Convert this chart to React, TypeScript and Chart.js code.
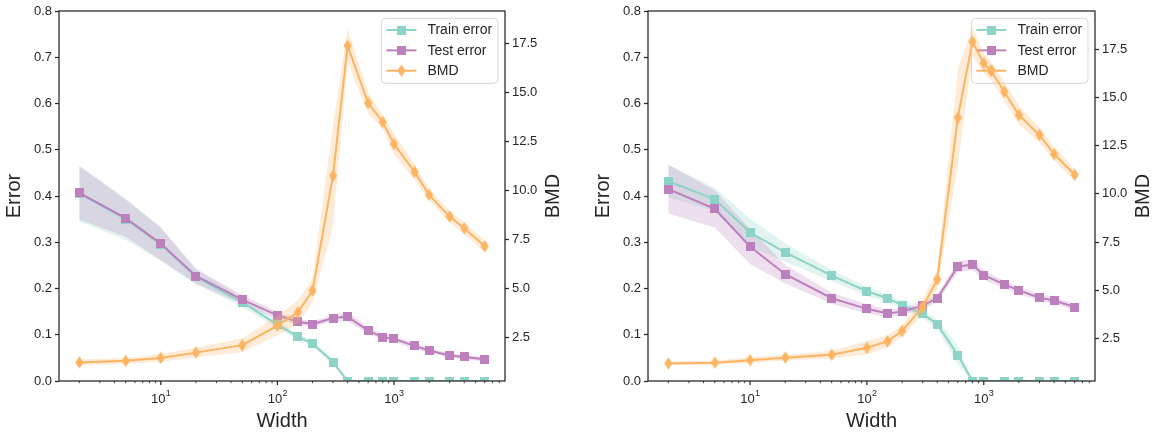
import React, { useEffect, useRef } from "react";
import { Chart, registerables } from "chart.js";

Chart.register(...registerables);

// ---------------- data ----------------
const widths = [2, 5, 10, 20, 50, 100, 150, 200, 300, 400, 600, 800, 1000, 1500, 2000, 3000, 4000, 6000];

// left panel
const trainErrA = [0.405, 0.350, 0.295, 0.225, 0.170, 0.122, 0.096, 0.081, 0.041, 0.0, 0, 0, 0, 0, 0, 0, 0, 0];
const trainStdA = [0.06, 0.045, 0.035, 0.016, 0.01, 0.008, 0.006, 0.006, 0.006, 0.002, 0, 0, 0, 0, 0, 0, 0, 0];
const testErrA = [0.407, 0.352, 0.297, 0.227, 0.176, 0.142, 0.128, 0.123, 0.136, 0.139, 0.109, 0.095, 0.091, 0.076, 0.066, 0.055, 0.052, 0.047];
const testStdA = [0.058, 0.04, 0.036, 0.016, 0.01, 0.008, 0.006, 0.006, 0.007, 0.01, 0.007, 0.006, 0.006, 0.006, 0.005, 0.005, 0.005, 0.005];
const bmdWidthsA = [2, 5, 10, 20, 50, 100, 150, 200, 300, 400, 600, 800, 1000, 1500, 2000, 3000, 4000, 6000];
const bmdA = [1.24, 1.32, 1.47, 1.74, 2.12, 3.12, 3.80, 4.90, 10.76, 17.38, 14.46, 13.49, 12.37, 10.95, 9.78, 8.67, 8.08, 7.16];
const bmdStdA = [0.15, 0.15, 0.2, 0.25, 0.35, 0.5, 0.6, 0.6, 2.6, 0.85, 0.55, 0.35, 0.55, 0.4, 0.3, 0.3, 0.3, 0.3];

// right panel
const trainErrB = [0.432, 0.393, 0.321, 0.278, 0.228, 0.194, 0.179, 0.164, 0.145, 0.123, 0.056, 0.0, 0, 0, 0, 0, 0, 0];
const trainStdB = [0.035, 0.025, 0.03, 0.02, 0.012, 0.01, 0.008, 0.008, 0.008, 0.01, 0.02, 0.002, 0, 0, 0, 0, 0, 0];
const testErrB = [0.415, 0.372, 0.291, 0.231, 0.179, 0.156, 0.146, 0.150, 0.163, 0.179, 0.247, 0.252, 0.229, 0.209, 0.196, 0.180, 0.174, 0.160];
const testStdB = [0.053, 0.04, 0.038, 0.02, 0.012, 0.01, 0.008, 0.008, 0.008, 0.008, 0.012, 0.012, 0.01, 0.008, 0.008, 0.007, 0.007, 0.007];
const bmdWidthsB = [2, 5, 10, 20, 50, 100, 150, 200, 300, 400, 600, 800, 1000, 1150, 1500, 2000, 3000, 4000, 6000];
const bmdB = [1.22, 1.26, 1.39, 1.52, 1.67, 2.03, 2.36, 2.90, 4.14, 5.57, 13.94, 17.88, 16.76, 16.38, 15.29, 14.08, 13.05, 12.06, 10.99];
const bmdStdB = [0.1, 0.1, 0.15, 0.15, 0.2, 0.35, 0.3, 0.3, 0.4, 0.5, 2.5, 0.75, 0.5, 0.5, 0.5, 0.5, 0.4, 0.35, 0.3];

const bmdTicks = [2.5, 5, 7.5, 10, 12.5, 15, 17.5];
const xMajorTicks = [10, 100, 1000];
const xMajorExps = ["1", "2", "3"];
const legendLabels = ["Train error", "Test error", "BMD"];

// ---------------- style ----------------
const FONT = '"Liberation Sans", Arial, Helvetica, sans-serif';
const TEXT = "#262626";
const SPINE = "#262626";
const TRAIN_C = "#8dd3c7";
const TEST_C = "#bc80bd";
const BMD_C = "#fdb462";

function rgba(hex: string, a: number) {
  const n = parseInt(hex.slice(1), 16);
  return `rgba(${(n >> 16) & 255},${(n >> 8) & 255},${n & 255},${a})`;
}

function squareImg(color: string) {
  const c = document.createElement("canvas");
  c.width = 9;
  c.height = 9;
  const g = c.getContext("2d")!;
  g.fillStyle = color;
  g.fillRect(0, 0, 9, 9);
  return c;
}

function diamondImg(color: string) {
  const c = document.createElement("canvas");
  c.width = 9;
  c.height = 13;
  const g = c.getContext("2d")!;
  g.fillStyle = color;
  g.beginPath();
  g.moveTo(4.5, 0.3);
  g.lineTo(8.6, 6.5);
  g.lineTo(4.5, 12.7);
  g.lineTo(0.4, 6.5);
  g.closePath();
  g.fill();
  return c;
}

const pts = (xs: number[], ys: number[]) => xs.map((x, i) => ({ x, y: ys[i] }));

type Spec = {
  trainErr: number[];
  trainStd: number[];
  testErr: number[];
  testStd: number[];
  bmdWidths: number[];
  bmd: number[];
  bmdStd: number[];
  bmdMin: number;
  bmdMax: number;
  leftW: number;
  rightW: number;
};

const CW = 579;
const CH = 434;

function Panel({ spec, left }: { spec: Spec; left: number }) {
  const ref = useRef<HTMLCanvasElement | null>(null);

  useEffect(() => {
    const canvas = ref.current;
    if (!canvas) return;
    const sqTrain = squareImg(TRAIN_C);
    const sqTest = squareImg(TEST_C);
    const dmBmd = diamondImg(BMD_C);

    const band = (xs: number[], m: number[], s: number[], color: string, axis: string, order: number) => [
      {
        data: pts(xs, m.map((v, i) => v + s[i])),
        borderColor: "rgba(0,0,0,0)",
        borderWidth: 0,
        pointRadius: 0,
        fill: "+1",
        backgroundColor: rgba(color, 0.25),
        yAxisID: axis,
        order,
        clip: 0,
      },
      {
        data: pts(xs, m.map((v, i) => v - s[i])),
        borderColor: "rgba(0,0,0,0)",
        borderWidth: 0,
        pointRadius: 0,
        fill: false,
        yAxisID: axis,
        order,
        clip: 0,
      },
    ];

    const line = (xs: number[], m: number[], color: string, img: HTMLCanvasElement, axis: string, order: number) => ({
      data: pts(xs, m),
      borderColor: color,
      backgroundColor: color,
      borderWidth: 2,
      pointStyle: img,
      pointRadius: 5,
      fill: false,
      yAxisID: axis,
      order,
      clip: 0,
    });

    const datasets: any[] = [
      ...band(widths, spec.trainErr, spec.trainStd, TRAIN_C, "y", 6), // 0,1
      ...band(widths, spec.testErr, spec.testStd, TEST_C, "y", 5), // 2,3
      line(widths, spec.trainErr, TRAIN_C, sqTrain, "y", 4), // 4
      line(widths, spec.testErr, TEST_C, sqTest, "y", 3), // 5
      ...band(spec.bmdWidths, spec.bmd, spec.bmdStd, BMD_C, "y2", 2), // 6,7
      line(spec.bmdWidths, spec.bmd, BMD_C, dmBmd, "y2", 1), // 8
    ];

    const legendItems = [
      { label: legendLabels[0], color: TRAIN_C, img: sqTrain },
      { label: legendLabels[1], color: TEST_C, img: sqTest },
      { label: legendLabels[2], color: BMD_C, img: dmBmd },
    ];

    const decor = {
      id: "decor",
      afterDatasetDraw(chart: any, args: any) {
        if (args.index !== 5) return;
        const ctx = chart.ctx;
        const a = chart.chartArea;
        const lw = 116.6;
        const lh = 65;
        const lx = a.right - 7 - lw;
        const ly = a.top + 7.3;
        ctx.save();
        ctx.beginPath();
        (ctx as any).roundRect(lx, ly, lw, lh, 4);
        ctx.fillStyle = "rgba(255,255,255,0.8)";
        ctx.fill();
        ctx.strokeStyle = "#d6d6d6";
        ctx.lineWidth = 1;
        ctx.stroke();
        ctx.font = `14px ${FONT}`;
        ctx.textBaseline = "middle";
        legendItems.forEach((it, i) => {
          const y = ly + 11.7 + i * 20.35;
          ctx.strokeStyle = it.color;
          ctx.lineWidth = 2;
          ctx.beginPath();
          ctx.moveTo(lx + 5, y);
          ctx.lineTo(lx + 35, y);
          ctx.stroke();
          ctx.drawImage(it.img, lx + 20 - it.img.width / 2, y - it.img.height / 2);
          ctx.fillStyle = TEXT;
          ctx.fillText(it.label, lx + 46, y + 0.5);
        });
        ctx.restore();
      },
      afterDraw(chart: any) {
        const ctx = chart.ctx;
        const a = chart.chartArea;
        const xs = chart.scales.x;
        ctx.save();
        // spines
        ctx.strokeStyle = SPINE;
        ctx.lineWidth = 1.25;
        ctx.strokeRect(a.left, a.top, a.right - a.left, a.bottom - a.top);
        // x ticks
        ctx.lineWidth = 1;
        for (let k = 0; k <= 3; k++) {
          for (let m = 1; m <= 9; m++) {
            const v = m * Math.pow(10, k);
            if (v < xs.min || v > xs.max) continue;
            const px = xs.getPixelForValue(v);
            const len = m === 1 ? 4 : 2.2;
            ctx.lineWidth = m === 1 ? 1.25 : 0.9;
            ctx.beginPath();
            ctx.moveTo(px, a.bottom);
            ctx.lineTo(px, a.bottom + len);
            ctx.stroke();
          }
        }
        // x tick labels
        ctx.fillStyle = TEXT;
        ctx.textBaseline = "alphabetic";
        xMajorTicks.forEach((v, i) => {
          const px = xs.getPixelForValue(v);
          ctx.font = `13px ${FONT}`;
          const w1 = ctx.measureText("10").width;
          ctx.font = `9px ${FONT}`;
          const w2 = ctx.measureText(xMajorExps[i]).width;
          const x0 = px - (w1 + w2) / 2;
          ctx.font = `13px ${FONT}`;
          ctx.textAlign = "left";
          ctx.fillText("10", x0, 403);
          ctx.font = `9px ${FONT}`;
          ctx.fillText(xMajorExps[i], x0 + w1 + 0.3, 396);
        });
        // axis titles
        ctx.font = `20px ${FONT}`;
        ctx.textAlign = "center";
        ctx.textBaseline = "middle";
        ctx.fillText("Width", (a.left + a.right) / 2, 421);
        const midY = (a.top + a.bottom) / 2;
        ctx.save();
        ctx.translate(a.left - 44.5, midY);
        ctx.rotate(-Math.PI / 2);
        ctx.fillText("Error", 0, 0);
        ctx.restore();
        ctx.save();
        ctx.translate(a.right + 48.5, midY);
        ctx.rotate(-Math.PI / 2);
        ctx.fillText("BMD", 0, 0);
        ctx.restore();
        ctx.restore();
      },
    };

    const tickFont = { family: FONT, size: 13 };
    const chart = new Chart(canvas, {
      type: "line",
      data: { datasets },
      options: {
        animation: false,
        responsive: false,
        maintainAspectRatio: false,
        layout: { padding: { top: 11, left: 0, right: 0, bottom: 0 } },
        plugins: { legend: { display: false }, tooltip: { enabled: false } },
        elements: { line: { tension: 0 } },
        scales: {
          x: {
            type: "logarithmic",
            min: Math.pow(10, 0.127),
            max: Math.pow(10, 3.952),
            grid: { display: false },
            ticks: { display: false },
            border: { display: false },
            afterFit: (s: any) => {
              s.height = 53;
            },
          },
          y: {
            type: "linear",
            position: "left",
            min: 0,
            max: 0.8,
            ticks: {
              stepSize: 0.1,
              callback: (v: any) => Number(v).toFixed(1),
              font: tickFont,
              color: TEXT,
              padding: 3,
            },
            grid: {
              display: true,
              drawOnChartArea: false,
              drawTicks: true,
              tickLength: 4,
              tickWidth: 1.25,
              tickColor: SPINE,
            },
            border: { display: false },
            afterFit: (s: any) => {
              s.width = spec.leftW;
            },
          },
          y2: {
            type: "linear",
            position: "right",
            min: spec.bmdMin,
            max: spec.bmdMax,
            afterBuildTicks: (s: any) => {
              s.ticks = bmdTicks.map((value) => ({ value }));
            },
            ticks: {
              callback: (v: any) => Number(v).toFixed(1),
              font: tickFont,
              color: TEXT,
              padding: 3,
            },
            grid: {
              display: true,
              drawOnChartArea: false,
              drawTicks: true,
              tickLength: 4,
              tickWidth: 1.25,
              tickColor: SPINE,
            },
            border: { display: false },
            afterFit: (s: any) => {
              s.width = spec.rightW;
            },
          },
        },
      } as any,
      plugins: [decor as any],
    });
    return () => chart.destroy();
  }, [spec]);

  return (
    <canvas
      ref={ref}
      width={CW}
      height={CH}
      style={{ position: "absolute", left, top: 0, width: CW, height: CH }}
    />
  );
}

const specA: Spec = {
  trainErr: trainErrA,
  trainStd: trainStdA,
  testErr: testErrA,
  testStd: testStdA,
  bmdWidths: bmdWidthsA,
  bmd: bmdA,
  bmdStd: bmdStdA,
  bmdMin: 0.294,
  bmdMax: 19.146,
  leftW: 59,
  rightW: 74,
};

const specB: Spec = {
  trainErr: trainErrB,
  trainStd: trainStdB,
  testErr: testErrB,
  testStd: testStdB,
  bmdWidths: bmdWidthsB,
  bmd: bmdB,
  bmdStd: bmdStdB,
  bmdMin: 0.31,
  bmdMax: 19.468,
  leftW: 69,
  rightW: 63,
};

export default function App() {
  return (
    <div style={{ position: "absolute", left: 0, top: 0, width: 1158, height: 434, background: "#fff" }}>
      <Panel spec={specA} left={0} />
      <Panel spec={specB} left={579} />
    </div>
  );
}
